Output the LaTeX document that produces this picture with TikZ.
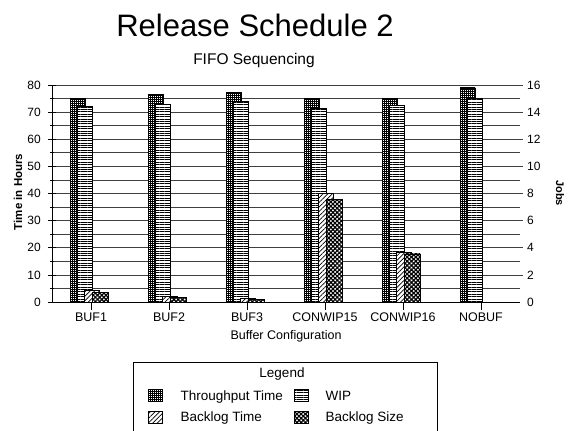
\documentclass[tikz,border=0pt]{standalone}
\usepackage{fontspec}
\setmainfont{Liberation Sans}
\usetikzlibrary{patterns.meta}

\tikzset{
  bar/.style={draw=black, line width=0.9pt, preaction={fill=white}},
  tput/.style={bar, pattern={Hatch[angle=0,distance=2pt,line width=0.8pt]}},
  wip/.style={bar, pattern={Lines[angle=0,distance=2.4pt,line width=0.8pt]}},
  btime/.style={bar, pattern={Lines[angle=45,distance=3.2pt,line width=0.7pt]}},
  bsize/.style={bar, pattern={Hatch[angle=45,distance=3pt,line width=1.2pt]}},
  gridline/.style={draw=black!75, line width=0.7pt},
  ticklabel/.style={font=\fontsize{12}{13}\selectfont, inner sep=0pt},
  leglabel/.style={font=\fontsize{13.5}{15}\selectfont, inner sep=0pt, anchor=base west}
}

\begin{document}
\begin{tikzpicture}[x=1pt, y=-1pt]
		\useasboundingbox (0,0) rectangle (568,431);
		\node[anchor=base, font=\fontsize{31}{34}\selectfont] (title) at (255,36) {Release Schedule 2};
		\node[anchor=base, font=\fontsize{15.5}{17}\selectfont] (subtitle) at (254,64.5) {FIFO Sequencing};
		\node[rotate=90, font=\bfseries\fontsize{11.5}{13}\selectfont] (hours) at (18,192) {Time in Hours};
		\node[rotate=-90, font=\bfseries\fontsize{11}{13}\selectfont] (jobs) at (560,193) {Jobs};
		\node[font=\fontsize{12.5}{14}\selectfont] (xlabel) at (286,336.5) {Buffer Configuration};
		
		\begin{scope}[shift={(52,302)}, yscale=-2.7125]
		\foreach \v in {5,15,...,75}
			\draw[gridline] (0,\v) -- (468,\v);
		\foreach \v [evaluate=\v as \j using int(\v/5)] in {10,20,...,80} {
			\draw[gridline] (0,\v) -- (471,\v);
			\node[ticklabel, anchor=west] (right\j) at (475,\v) {\j};
		}
		\foreach \v in {0,10,...,80} {
			\draw[line width=0.7pt] (-4,\v) -- (4,\v);
			\node[ticklabel, anchor=east] (left\v) at (-11,\v) {\v};
		}
		\node[ticklabel, anchor=west] (right0) at (475,0) {0};
		\foreach \v in {5,15,...,75}
			\draw[line width=0.7pt] (-2,\v) -- (2,\v);
		\draw[line width=0.9pt] (0,80) -- (0,0) -- (468,0);
		
		\foreach \nm/\tp/\wp/\bt/\bs [count=\i from 0] in {BUF1/75/72/4.2/3.6, BUF2/76.4/73/2.2/1.8, BUF3/77.2/73.8/1.3/1.0, CONWIP15/75/71.5/40.1/37.9, CONWIP16/75.2/72.3/18.3/17.7, NOBUF/78.9/75.2/0/0} {
			\pgfmathsetmacro{\c}{39+78*\i}
			\draw[tput] (\c-21,0) rectangle (\c-6,\tp);
			\draw[wip] (\c-14,0) rectangle (\c+1,\wp);
			\ifdim\bt pt>0pt
				\draw[btime] (\c-6.5,0) rectangle (\c+8.5,\bt);
				\draw[bsize] (\c+1.5,0) rectangle (\c+17,\bs);
			\fi
			\draw[line width=0.7pt] (\c,0) -- (\c,-2.8);
			\node[font=\fontsize{12.5}{14}\selectfont] (cat\i) at (\c,-5.5) {\nm};
		}
		\end{scope}
		
		% legend
		\draw[line width=0.9pt] (133,362) rectangle (437,445);
		\node[anchor=base, font=\fontsize{13.5}{15}\selectfont] (legend) at (282,377) {Legend};
		\draw[tput] (148,389) rectangle (162,401);
		\draw[btime] (148,411) rectangle (162,423);
		\draw[wip] (294,389) rectangle (308,401);
		\draw[bsize] (294,411) rectangle (308,423);
		\node[leglabel] (tputlabel) at (180.5,400) {Throughput Time};
		\node[leglabel] (btimelabel) at (180.5,421.5) {Backlog Time};
		\node[leglabel] (wiplabel) at (325.5,400) {WIP};
		\node[leglabel] (bsizelabel) at (325.5,421.5) {Backlog Size};
	\end{tikzpicture}
\end{document}
